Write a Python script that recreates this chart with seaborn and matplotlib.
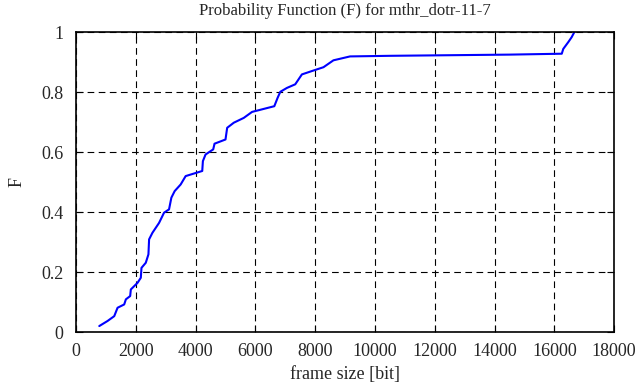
import pandas as pd
import matplotlib
matplotlib.use('Agg')
import matplotlib.pyplot as plt
import seaborn as sns

# 样式
sns.set_style('ticks')
plt.rcParams['font.family'] = ['Liberation Serif', 'DejaVu Serif']

# 数据：累积分布曲线
frame_size = [777, 1056, 1278, 1389, 1611, 1667, 1811, 1833, 2056, 2167, 2189, 2333,
              2422, 2444, 2556, 2778, 2944, 3111, 3189, 3300, 3500, 3667, 4222, 4244,
              4333, 4589, 4633, 5000, 5056, 5278, 5611, 5889, 6633, 6744, 6833, 7056,
              7333, 7556, 7944, 8278, 8611, 9167, 10500, 12500, 14500, 16250, 16300,
              16470, 16580, 16670]
prob_F = [0.020, 0.037, 0.053, 0.081, 0.092, 0.109, 0.120, 0.142, 0.164, 0.181, 0.214, 0.231,
          0.259, 0.309, 0.331, 0.364, 0.398, 0.409, 0.448, 0.470, 0.492, 0.520, 0.537, 0.570,
          0.592, 0.609, 0.628, 0.642, 0.681, 0.698, 0.714, 0.734, 0.753, 0.781, 0.801, 0.814,
          0.826, 0.859, 0.872, 0.883, 0.906, 0.919, 0.921, 0.923, 0.925, 0.928, 0.944,
          0.967, 0.983, 1.000]

x_ticks = list(range(0, 18001, 2000))
y_ticks = [0, 0.2, 0.4, 0.6, 0.8, 1]

df = pd.DataFrame({'frame size': frame_size, 'F': prob_F})

fig = plt.figure(figsize=(6.39, 3.87), dpi=100)
ax = fig.add_axes([0.119, 0.142, 0.842, 0.775])
sns.lineplot(data=df, x='frame size', y='F', ax=ax, color='#0000ff', lw=1.5, sort=False)

ax.set_xlim(0, 18000)
ax.set_ylim(0, 1)
ax.set_xticks(x_ticks)
ax.set_yticks(y_ticks)
ax.set_yticklabels(['0', '0.2', '0.4', '0.6', '0.8', '1'])
ax.grid(True, color='black', linestyle=(0, (6, 4)), lw=0.8)
ax.tick_params(direction='in', top=True, right=True, length=5, labelsize=13, color='black')
ax.tick_params(axis='x', pad=8)
ax.tick_params(axis='y', pad=9)
for s in ax.spines.values():
    s.set_linewidth(1.2)
    s.set_color('black')

ax.set_title('Probability Function (F) for mthr_dotr-11-7', fontsize=12, pad=12)
ax.set_xlabel('frame size [bit]', fontsize=13, labelpad=4)
ax.set_ylabel('F', fontsize=13, labelpad=11)

fig.savefig('out.png', dpi=100)
